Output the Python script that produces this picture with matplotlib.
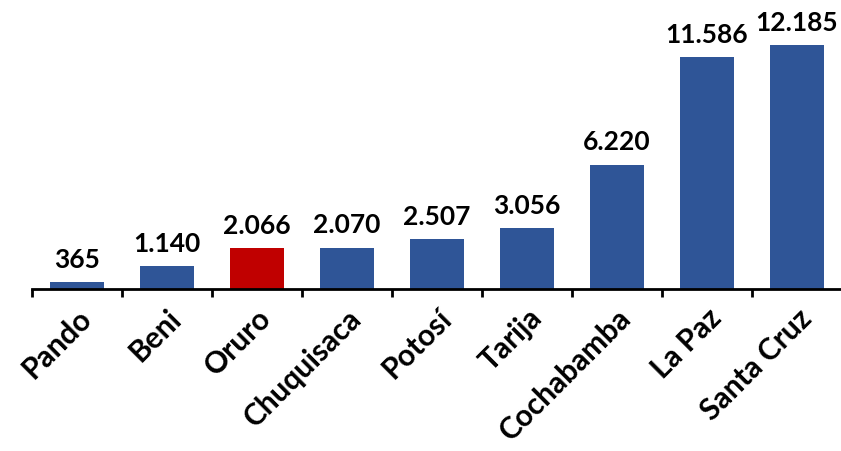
import matplotlib
matplotlib.use("Agg")
import matplotlib.pyplot as plt
import numpy as np

categories = ["Pando", "Beni", "Oruro", "Chuquisaca", "Potosí", "Tarija", "Cochabamba", "La Paz", "Santa Cruz"]
values = [365, 1140, 2066, 2070, 2507, 3056, 6220, 11586, 12185]
labels = ["365", "1.140", "2.066", "2.070", "2.507", "3.056", "6.220", "11.586", "12.185"]
highlight = "Oruro"

blue = "#2F5597"
red = "#C00000"

fig = plt.figure(figsize=(8.41, 4.52), dpi=100)
ax = fig.add_axes([32/841, 162/452, 810/841, 290/452])
x = np.arange(len(categories))
colors = [red if c == highlight else blue for c in categories]
bars = ax.bar(x, values, width=0.59, color=colors, zorder=2)

for xi, v, lab in zip(x, values, labels):
    ax.annotate(lab, (xi, v), xytext=(0, 8), textcoords="offset points",
                ha="center", va="bottom", fontsize=19, fontweight="bold",
                family="Lato", color="black")

ax.set_xlim(-0.5, len(categories) - 0.5)
ax.set_ylim(0, 14500)
for s in ["top", "right", "left"]:
    ax.spines[s].set_visible(False)
ax.spines["bottom"].set_linewidth(2)
ax.set_yticks([])
ax.set_xticks(x)
ax.set_xticklabels(categories, rotation=45, ha="right", rotation_mode="anchor",
                   fontsize=21.5, fontweight="bold", family="Lato")
ax.tick_params(axis="x", which="major", length=0, pad=10)
ax.set_xticks(np.arange(-0.5, len(categories)), minor=True)
ax.tick_params(axis="x", which="minor", length=6, width=2, direction="out")

fig.savefig("out.png", dpi=100)
